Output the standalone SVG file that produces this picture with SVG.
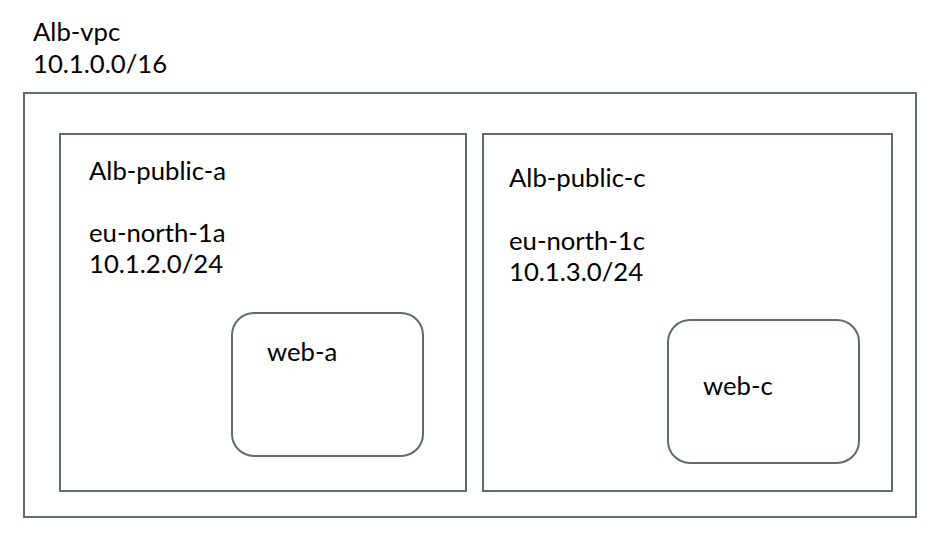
<svg xmlns="http://www.w3.org/2000/svg" width="942" height="543" viewBox="0 0 942 543">
<style>
.box{fill:#ffffff;stroke:#5f6b6d;stroke-width:2}
.t{font-family:Lato,"Liberation Sans",sans-serif;font-size:25.7px;fill:#000000}
</style>
<rect width="942" height="543" fill="#ffffff"/>
<g id="vpc">
<rect class="box" x="24" y="93" width="892" height="424"/>
<text class="t" x="33" y="41">Alb-vpc</text>
<text class="t" x="33" y="73">10.1.0.0/16</text>
</g>
<g id="public-a">
<rect class="box" x="60" y="134" width="406" height="357"/>
<text class="t" x="89" y="180">Alb-public-a</text>
<text class="t" x="89" y="242">eu-north-1a</text>
<text class="t" x="89" y="273">10.1.2.0/24</text>
</g>
<g id="public-c">
<rect class="box" x="483" y="134" width="409" height="357"/>
<text class="t" x="509" y="187">Alb-public-c</text>
<text class="t" x="509" y="250">eu-north-1c</text>
<text class="t" x="509" y="281">10.1.3.0/24</text>
</g>
<g id="web-a">
<rect class="box" x="232" y="313" width="191" height="143" rx="22"/>
<text class="t" x="267" y="361">web-a</text>
</g>
<g id="web-c">
<rect class="box" x="668" y="320" width="191" height="143" rx="22"/>
<text class="t" x="703" y="395">web-c</text>
</g>
<g id="connectors"/>
</svg>
